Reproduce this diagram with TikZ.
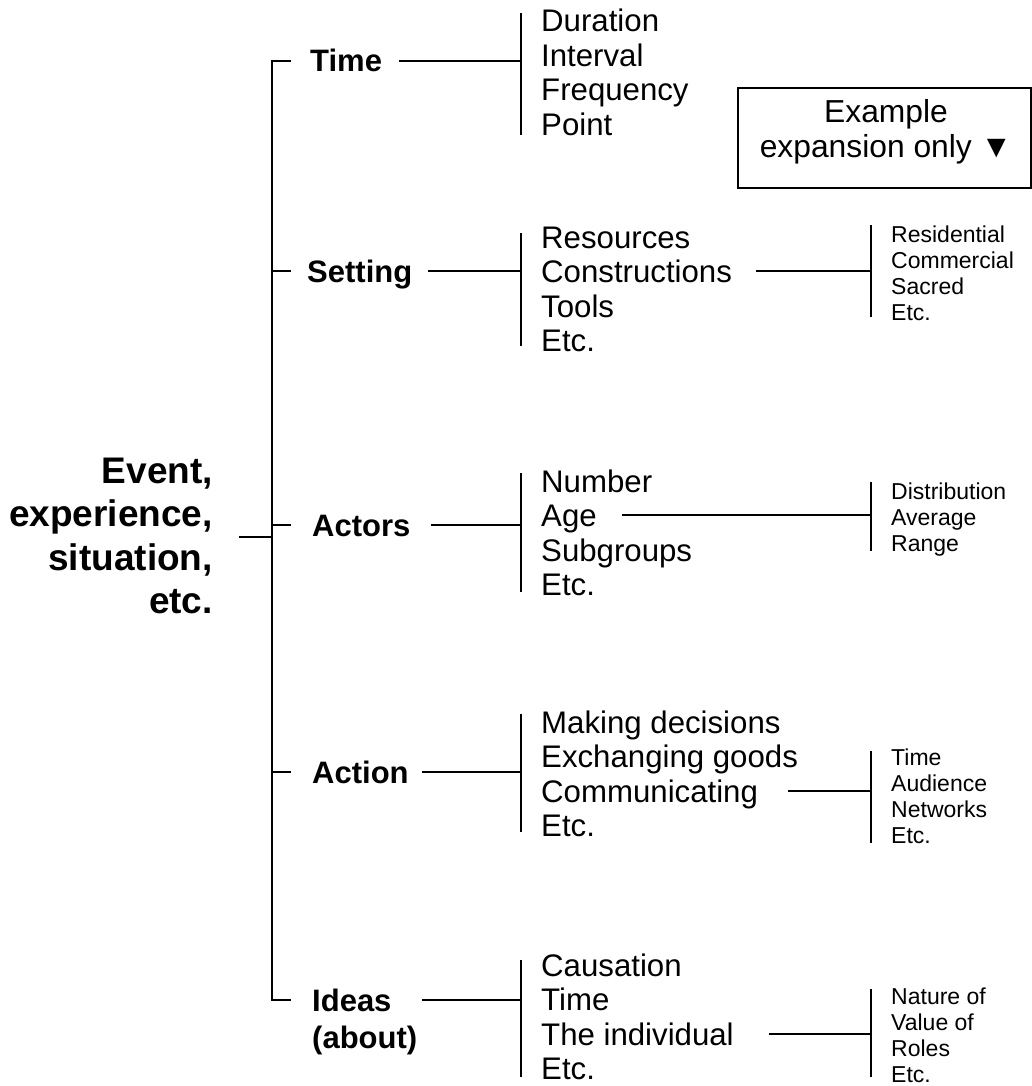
\documentclass[tikz,border=0pt]{standalone}
\usepackage{fontspec}
\setmainfont{Liberation Sans}
\begin{document}
\begin{tikzpicture}[x=1pt,y=-1pt,
  ln/.style={line width=1.7pt},
  cat/.style={font=\bfseries\fontsize{31}{37}\selectfont, inner sep=0pt, text height=22pt, text depth=0pt, anchor=west},
  catb/.style={font=\bfseries\fontsize{31}{37}\selectfont, inner sep=0pt, anchor=base west},
  itm/.style={font=\fontsize{31.2}{35}\selectfont, inner sep=0pt, text height=22.4pt, text depth=0pt, anchor=base west},
  subi/.style={font=\fontsize{23}{26}\selectfont, inner sep=0pt, text height=16.5pt, text depth=0pt, anchor=base west},
  mainl/.style={font=\bfseries\fontsize{37}{43}\selectfont, inner sep=0pt, anchor=base east},
  boxt/.style={font=\fontsize{31.8}{35}\selectfont, inner sep=0pt, anchor=base},
  boxst/.style={draw, line width=1.2pt, minimum width=293pt, minimum height=100pt, inner sep=0pt}]
\useasboundingbox (0,0) rectangle (1032,1086);

% main label
\node[mainl] (m1) at (213,483) {Event,};
\node[mainl] (m2) at (213,526.5) {experience,};
\node[mainl] (m3) at (213,570) {situation,};
\node[mainl] (m4) at (213,613.5) {etc.};

% categories
\node[cat] (time) at (310,61) {Time};
\node[cat] (setting) at (307,271) {Setting};
\node[cat] (actors) at (312,525) {Actors};
\node[cat] (action) at (312,772) {Action};
\node[cat] (ideas) at (312,1000) {Ideas};
\node[catb] (about) at (312,1048) {(about)};

% spine
\coordinate (spine) at (272,0);
\coordinate (stub) at (239,537);
\draw[ln] (spine |- time) ++(19,0) -- (spine |- time) -- (spine |- ideas) -- ++(19,0);
\draw[ln] (spine |- setting) -- ++(19,0);
\draw[ln] (spine |- actors) -- ++(19,0);
\draw[ln] (spine |- action) -- ++(19,0);
\draw[ln] (stub) -- (spine |- stub);

% item bars
\coordinate (tb1) at (521,13);   \coordinate (tb2) at (521,135);
\coordinate (sb1) at (521,233);  \coordinate (sb2) at (521,346);
\coordinate (ab1) at (521,473);  \coordinate (ab2) at (521,592);
\coordinate (cb1) at (521,714);  \coordinate (cb2) at (521,832);
\coordinate (ib1) at (521,960);  \coordinate (ib2) at (521,1077);
\draw[ln] (tb1) -- (tb2);
\draw[ln] (sb1) -- (sb2);
\draw[ln] (ab1) -- (ab2);
\draw[ln] (cb1) -- (cb2);
\draw[ln] (ib1) -- (ib2);

\draw[ln] ([xshift=16.6pt]time.east) -- (tb1 |- time);
\draw[ln] ([xshift=16pt]setting.east) -- (sb1 |- setting);
\draw[ln] ([xshift=20pt]actors.east) -- (ab1 |- actors);
\draw[ln] ([xshift=13.6pt]action.east) -- (cb1 |- action);
\draw[ln] ([xshift=30.7pt]ideas.east) -- (ib1 |- ideas);

% items
\node[itm] (t1) at (541,32) {Duration};
\node[itm] (t2) at (541,66.5) {Interval};
\node[itm] (t3) at (541,101) {Frequency};
\node[itm] (t4) at (541,135.5) {Point};

\node[itm] (s1) at (541,248) {Resources};
\node[itm] (s2) at (541,282.5) {Constructions};
\node[itm] (s3) at (541,317) {Tools};
\node[itm] (s4) at (541,351.5) {Etc.};

\node[itm] (a1) at (541,492) {Number};
\node[itm] (a2) at (541,526.5) {Age};
\node[itm] (a3) at (541,561) {Subgroups};
\node[itm] (a4) at (541,595.5) {Etc.};

\node[itm] (c1) at (541,733) {Making decisions};
\node[itm] (c2) at (541,767.5) {Exchanging goods};
\node[itm] (c3) at (541,802) {Communicating};
\node[itm] (c4) at (541,836.5) {Etc.};

\node[itm] (i1) at (541,976) {Causation};
\node[itm] (i2) at (541,1010.5) {Time};
\node[itm] (i3) at (541,1045) {The individual};
\node[itm] (i4) at (541,1079.5) {Etc.};

% sub bars
\coordinate (ssb1) at (871,225);  \coordinate (ssb2) at (871,317);
\coordinate (asb1) at (871,482);  \coordinate (asb2) at (871,551);
\coordinate (csb1) at (871,751);  \coordinate (csb2) at (871,843);
\coordinate (isb1) at (871,989);  \coordinate (isb2) at (871,1077);
\draw[ln] (ssb1) -- (ssb2);
\draw[ln] (asb1) -- (asb2);
\draw[ln] (csb1) -- (csb2);
\draw[ln] (isb1) -- (isb2);

\draw[ln] ([xshift=24.3pt]s2.east) -- (ssb1 |- s2.east);
\draw[ln] ([xshift=25.5pt]a2.east) -- (asb1 |- a2.east);
\draw[ln] ([xshift=30.2pt]c3.east) -- (csb1 |- c3.east);
\draw[ln] ([xshift=34.6pt]i3.east) -- (isb1 |- i3.east);

% sub items
\node[subi] (ss1) at (891,242) {Residential};
\node[subi] (ss2) at (891,268) {Commercial};
\node[subi] (ss3) at (891,294) {Sacred};
\node[subi] (ss4) at (891,320) {Etc.};

\node[subi] (as1) at (891,499) {Distribution};
\node[subi] (as2) at (891,525) {Average};
\node[subi] (as3) at (891,551) {Range};

\node[subi] (cs1) at (891,765) {Time};
\node[subi] (cs2) at (891,791) {Audience};
\node[subi] (cs3) at (891,817) {Networks};
\node[subi] (cs4) at (891,843) {Etc.};

\node[subi] (is1) at (891,1004) {Nature of};
\node[subi] (is2) at (891,1030) {Value of};
\node[subi] (is3) at (891,1056) {Roles};
\node[subi] (is4) at (891,1082) {Etc.};

% example box
\node[boxst] (box) at (884.5,138) {};
\node[boxt] (ex1) at (886,123) {Example};
\node[boxt] (ex2) at (886,158) {expansion only ▼};
\end{tikzpicture}
\end{document}
